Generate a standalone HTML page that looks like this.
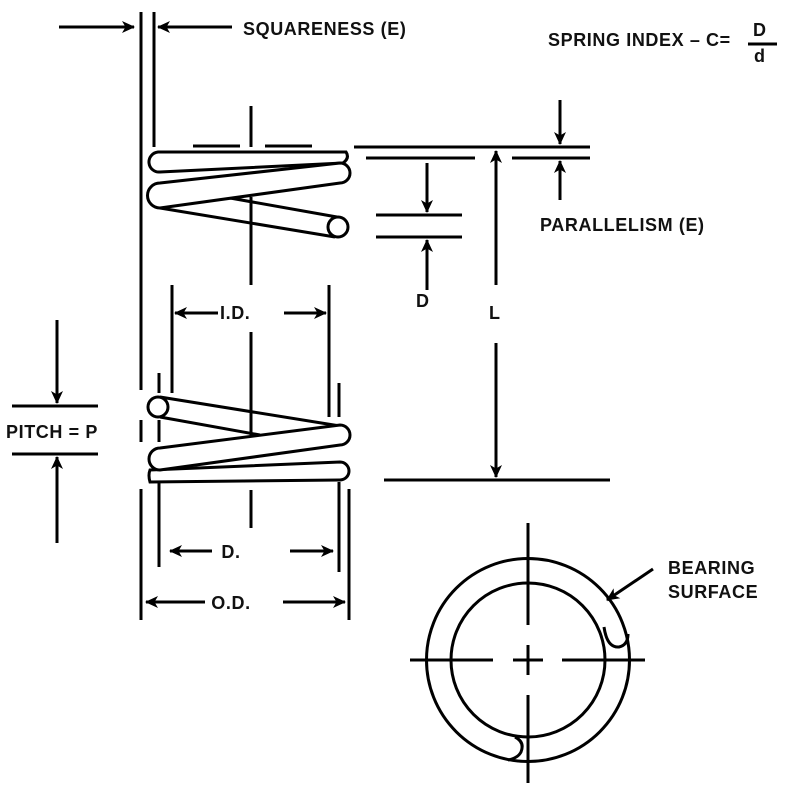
<!DOCTYPE html>
<html><head><style>
html,body{margin:0;padding:0;background:#fff;}
svg{display:block;}
text{font-family:"Liberation Sans",sans-serif;font-weight:bold;font-size:18px;letter-spacing:0.6px;fill:#111;}
</style></head><body>
<svg width="795" height="790" viewBox="0 0 795 790" xmlns="http://www.w3.org/2000/svg">
<defs>
<marker id="ah" markerWidth="13" markerHeight="12" refX="12" refY="6" orient="auto" markerUnits="userSpaceOnUse">
<path d="M0,0 L13,6 L0,12 L3.5,6 Z" fill="#000"/>
</marker>
</defs>
<g stroke="#000" stroke-width="3" fill="none">
<!-- squareness -->
<line x1="59" y1="27" x2="134" y2="27" marker-end="url(#ah)"/>
<line x1="232" y1="27" x2="158" y2="27" marker-end="url(#ah)"/>
<line x1="141" y1="12" x2="141" y2="390"/>
<line x1="141" y1="420" x2="141" y2="442"/>
<line x1="141" y1="489" x2="141" y2="620"/>
<line x1="154" y1="12" x2="154" y2="147"/>
<!-- top center marks -->
<line x1="251" y1="106" x2="251" y2="147"/>
<line x1="193" y1="146" x2="240" y2="146"/>
<line x1="265" y1="146" x2="312" y2="146"/>
<line x1="251" y1="197" x2="251" y2="285"/>
<line x1="251" y1="332" x2="251" y2="435"/>
<line x1="251" y1="490" x2="251" y2="528"/>
<!-- top coils -->
<path d="M158,152 L346,152 Q350,158 343,163 L160,172 A10,10 0 0 1 158,152 Z" fill="#fff"/>
<path d="M230,198 L337,217 M160,208 L335,237" />
<circle cx="338" cy="227" r="10" fill="#fff"/>
<path d="M160,183 L340,163 A10,10 0 0 1 340,183 L160,208 A12.5,12.5 0 0 1 160,183 Z" fill="#fff"/>
<!-- parallelism / L / D -->
<line x1="354" y1="147" x2="590" y2="147"/>
<line x1="366" y1="158" x2="475" y2="158"/>
<line x1="512" y1="158" x2="590" y2="158"/>
<line x1="560" y1="100" x2="560" y2="144" marker-end="url(#ah)"/>
<line x1="560" y1="200" x2="560" y2="161" marker-end="url(#ah)"/>
<line x1="376" y1="215" x2="462" y2="215"/>
<line x1="376" y1="237" x2="462" y2="237"/>
<line x1="427" y1="163" x2="427" y2="212" marker-end="url(#ah)"/>
<line x1="427" y1="290" x2="427" y2="240" marker-end="url(#ah)"/>
<line x1="496" y1="285" x2="496" y2="151" marker-end="url(#ah)"/>
<line x1="496" y1="343" x2="496" y2="477" marker-end="url(#ah)"/>
<line x1="384" y1="480" x2="610" y2="480"/>
<!-- I.D. -->
<line x1="172" y1="285" x2="172" y2="393"/>
<line x1="329" y1="285" x2="329" y2="417"/>
<line x1="218" y1="313" x2="175" y2="313" marker-end="url(#ah)"/>
<line x1="284" y1="313" x2="326" y2="313" marker-end="url(#ah)"/>
<!-- bottom side marks -->
<line x1="159" y1="373" x2="159" y2="393"/>
<line x1="159" y1="420" x2="159" y2="442"/>
<line x1="159" y1="482" x2="159" y2="567"/>
<line x1="339" y1="383" x2="339" y2="417"/>
<line x1="339" y1="482" x2="339" y2="572"/>
<line x1="349" y1="489" x2="349" y2="620"/>
<!-- bottom coils -->
<path d="M150,470 L340,462 A9,9 0 0 1 340,480 L150,482 Q148,475 150,470 Z" fill="#fff"/>
<path d="M160,397 L340,426 M160,417 L260,435" />
<circle cx="158" cy="407" r="10" fill="#fff"/>
<path d="M160,448 L340,425 A10,10 0 0 1 340,445 L160,470 A11,11 0 0 1 160,448 Z" fill="#fff"/>
<!-- D. / O.D. -->
<line x1="212" y1="551" x2="170" y2="551" marker-end="url(#ah)"/>
<line x1="290" y1="551" x2="333" y2="551" marker-end="url(#ah)"/>
<line x1="205" y1="602" x2="146" y2="602" marker-end="url(#ah)"/>
<line x1="283" y1="602" x2="345" y2="602" marker-end="url(#ah)"/>
<!-- pitch -->
<line x1="12" y1="406" x2="98" y2="406"/>
<line x1="12" y1="454" x2="98" y2="454"/>
<line x1="57" y1="320" x2="57" y2="403" marker-end="url(#ah)"/>
<line x1="57" y1="543" x2="57" y2="457" marker-end="url(#ah)"/>
<!-- fraction -->
<line x1="748" y1="44" x2="777" y2="44"/>
<!-- bearing circle -->
<circle cx="528" cy="660" r="101.5"/>
<circle cx="528" cy="660" r="77"/>
<path d="M604,627 Q607,648 619,647 Q628,645 628,634" />
<path d="M515,737 Q525,742 521,752 Q518,758 508,760" />
<line x1="410" y1="660" x2="493" y2="660"/>
<line x1="513" y1="660" x2="543" y2="660"/>
<line x1="562" y1="660" x2="645" y2="660"/>
<line x1="528" y1="523" x2="528" y2="625"/>
<line x1="528" y1="645" x2="528" y2="675"/>
<line x1="528" y1="695" x2="528" y2="783"/>
<line x1="653" y1="569" x2="607" y2="600" marker-end="url(#ah)"/>
</g>
<text x="243" y="35">SQUARENESS (E)</text>
<text x="548" y="46">SPRING INDEX – C=</text>
<text x="753" y="36">D</text>
<text x="754" y="62">d</text>
<text x="540" y="231">PARALLELISM (E)</text>
<text x="416" y="307">D</text>
<text x="489" y="319">L</text>
<text x="220" y="319">I.D.</text>
<text x="6" y="438">PITCH = P</text>
<text x="231" y="558" text-anchor="middle">D.</text>
<text x="231" y="609" text-anchor="middle">O.D.</text>
<text x="668" y="574">BEARING</text>
<text x="668" y="598">SURFACE</text>
</svg>
</body></html>
